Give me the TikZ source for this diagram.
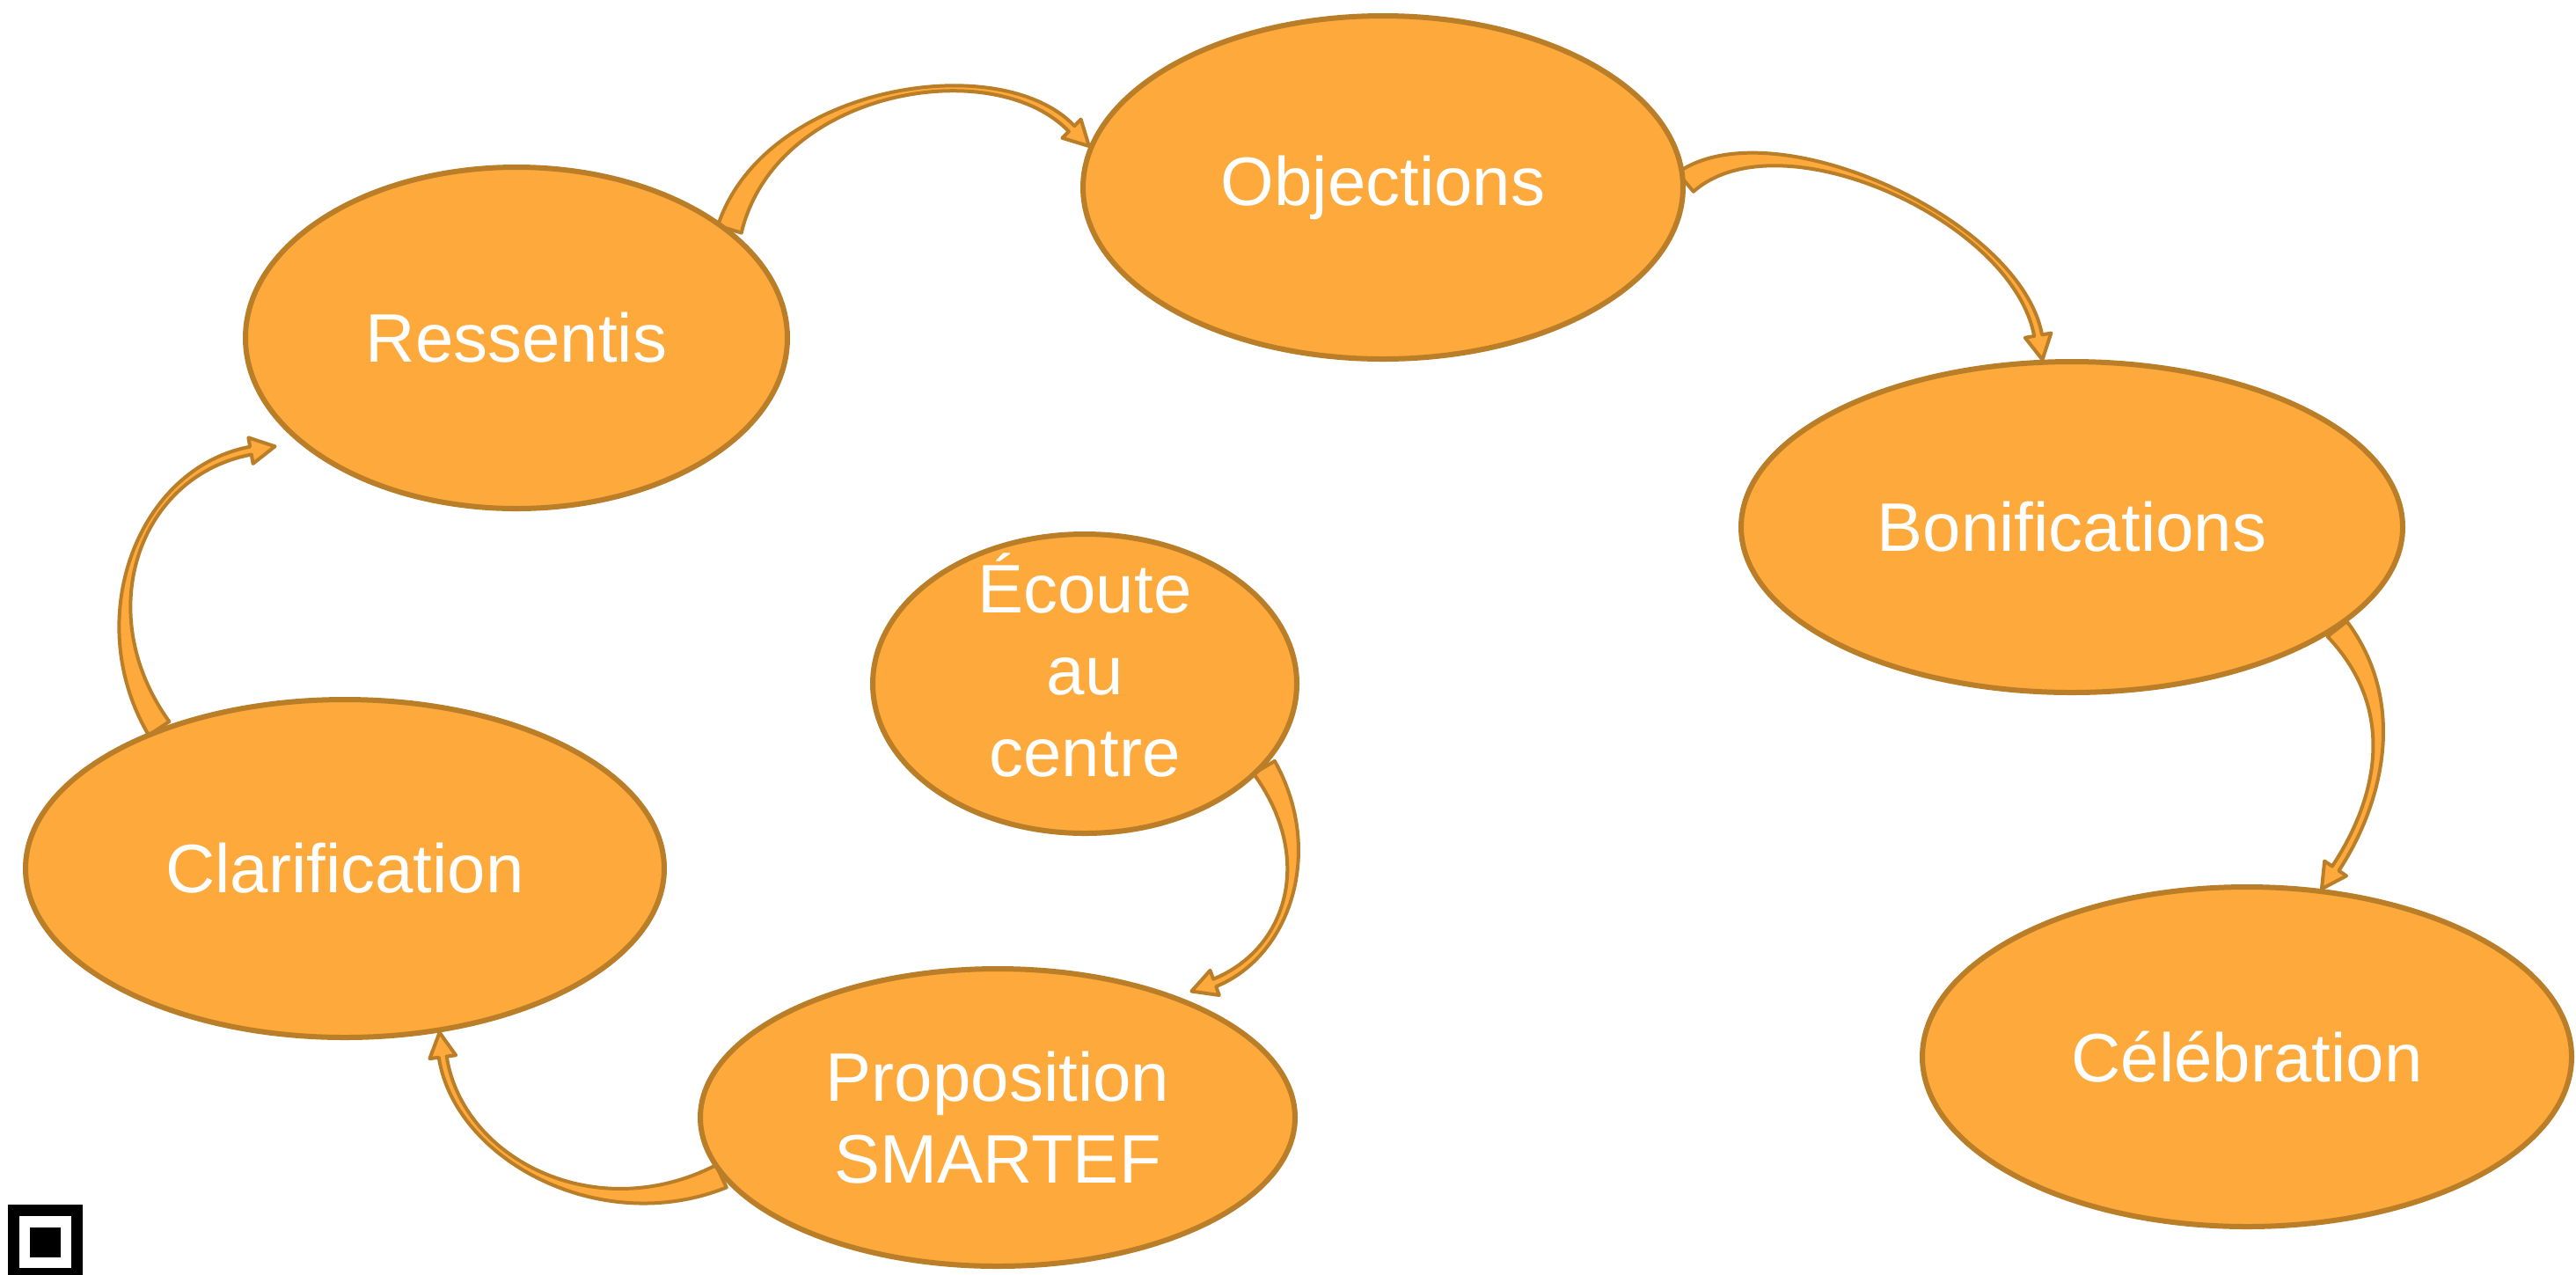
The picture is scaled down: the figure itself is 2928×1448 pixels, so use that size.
\documentclass[tikz,border=0pt]{standalone}
\usepackage{fontspec}
\setmainfont{Liberation Sans}
\usetikzlibrary{shapes.geometric,calc}
\pgfdeclarelayer{bg}
\pgfsetlayers{bg,main}
\definecolor{fillor}{RGB}{253,169,60}
\definecolor{edgebr}{RGB}{186,126,40}
% #1 base, #2 base direction (screen deg), #3 ctrl1, #4 ctrl2, #5 head direction, #6 tip
\newcommand{\flowarrow}[6]{%
  \path (#6) coordinate (ct) ($(ct)+({#5+180}:28)$) coordinate (cn) (#1) coordinate (cb);
  \filldraw[conn] ($(cb)+({#2+90}:14)$) .. controls ($(#3)+({#2+90}:7)$) and ($(#4)+({#5+90}:4.5)$) .. ($(cn)+({#5+90}:4.5)$)
    -- ($(cn)+({#5+90}:15)$) -- (ct) -- ($(cn)+({#5-90}:15)$) -- ($(cn)+({#5-90}:4.5)$)
    .. controls ($(#4)+({#5-90}:4.5)$) and ($(#3)+({#2-90}:7)$) .. ($(cb)+({#2-90}:14)$) -- cycle;}
\begin{document}
\begin{tikzpicture}[x=0.5pt,y=-0.5pt,
  bubble/.style={ellipse, draw=edgebr, fill=fillor, line width=3pt, inner sep=-40pt,
    align=center, text=white, font=\fontsize{39}{46.5}\selectfont},
  txt/.style={inner sep=0pt, align=center, text=white, font=\fontsize{39}{46.5}\selectfont},
  conn/.style={draw=edgebr, fill=fillor, line width=2pt, line join=round}]
\useasboundingbox (0,0) rectangle (2928,1448);

\node[bubble, minimum width=308pt, minimum height=194pt] (ress) at (587,384) {Ressentis};
\node[bubble, minimum width=341pt, minimum height=195pt] (obj) at (1572,213) {Objections};
\node[bubble, minimum width=376pt, minimum height=188pt] (bonif) at (2355,599) {Bonifications};
\node[bubble, minimum width=369pt, minimum height=193pt] (celeb) at (2554,1201) {Célébration};
\node[bubble, minimum width=363pt, minimum height=192pt] (clar) at (392,987) {Clarification};
\node[bubble, minimum width=338pt, minimum height=169pt] (prop) at (1134,1270) {Proposition\\SMARTEF};
\node[bubble, minimum width=241pt, minimum height=170pt] (ecoute) at (1233,777) {};
\node[txt, anchor=north] (ecoutetxt) at (1233,628) {Écoute\\au\\centre};

\begin{pgfonlayer}{bg}
\fill[white] (0,0) rectangle (2928,1448);
\flowarrow{ress.27}{-73}{875,99}{1133,57}{45}{obj.172}
\flowarrow{obj.1}{-40}{2018,126}{2292,249}{80}{bonif.100}
\flowarrow{bonif.-21}{52}{2733,805}{2703,914}{124}{celeb.66}
\flowarrow{ecoute.-25}{59}{1500,970}{1466,1082}{160}{$(prop.30)+(-4,-14)$}
\flowarrow{prop.192}{154.7}{679,1401}{521,1317}{-97.5}{clar.-60}
\flowarrow{clar.143}{-123.5}{97,700}{157,536}{-10}{$(ress.204)+(-20,10)$}
\end{pgfonlayer}

% small icon, bottom left
\draw[line width=6.5pt] (15.5,1375.5) rectangle (87.5,1447.5);
\fill (34,1395) rectangle (69,1429);
\end{tikzpicture}
\end{document}
